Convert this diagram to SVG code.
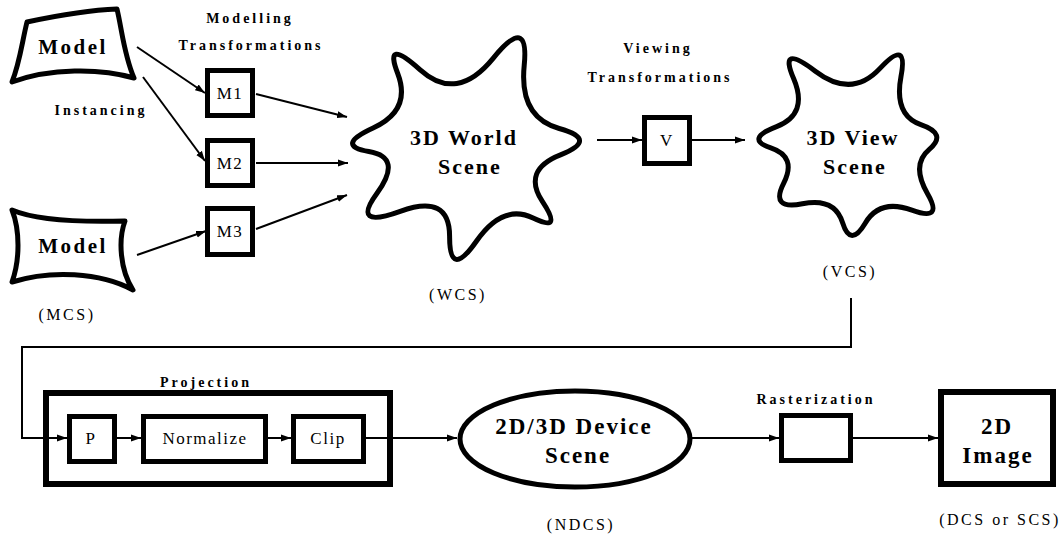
<svg xmlns="http://www.w3.org/2000/svg" width="1063" height="534" viewBox="0 0 1063 534">
<style>
.shape{fill:#fff;stroke:#000;stroke-width:5;stroke-linejoin:round}
.box{fill:#fff;stroke:#000;stroke-width:5}
text{font-family:'Liberation Serif','Times New Roman','DejaVu Serif',serif;text-anchor:middle;fill:#000}
.big{font-weight:bold;font-size:22px;letter-spacing:2px}
.lbl{font-weight:bold;font-size:14px;letter-spacing:3px}
.sm{font-size:16px;letter-spacing:2.5px}
.in{font-size:17px;letter-spacing:1.5px}
.con{fill:none;stroke:#000;stroke-width:2}
</style>
<defs>
<marker id="ah" markerWidth="10" markerHeight="8" refX="10" refY="4" orient="auto" markerUnits="userSpaceOnUse">
<path d="M0,0.5 L10,4 L0,7.5 Z" fill="#000"/>
</marker>
</defs>

<g id="connectors">
<line class="con" x1="137" y1="47" x2="205" y2="93" marker-end="url(#ah)"/>
<line class="con" x1="143" y1="77" x2="205" y2="161" marker-end="url(#ah)"/>
<line class="con" x1="256" y1="94" x2="347" y2="117" marker-end="url(#ah)"/>
<line class="con" x1="256" y1="163" x2="348" y2="163" marker-end="url(#ah)"/>
<line class="con" x1="137" y1="255" x2="206" y2="231" marker-end="url(#ah)"/>
<line class="con" x1="256" y1="229" x2="347" y2="195" marker-end="url(#ah)"/>
<line class="con" x1="597" y1="140" x2="642" y2="140" marker-end="url(#ah)"/>
<line class="con" x1="692" y1="140" x2="745" y2="140" marker-end="url(#ah)"/>
<polyline class="con" points="851,298 851,347 22,347 22,438 67,438" marker-end="url(#ah)"/>
<line class="con" x1="117" y1="438" x2="141" y2="438" marker-end="url(#ah)"/>
<line class="con" x1="268" y1="438" x2="291" y2="438" marker-end="url(#ah)"/>
<line class="con" x1="366" y1="438" x2="457" y2="438" marker-end="url(#ah)"/>
<line class="con" x1="692" y1="438" x2="779" y2="438" marker-end="url(#ah)"/>
<line class="con" x1="853" y1="438" x2="938" y2="438" marker-end="url(#ah)"/>
</g>

<g id="model1">
<path class="shape" d="M27,22 C55,16 90,10 117,9 C122,30 124,55 134,78 C100,68 50,68 12,82 C20,62 22,42 27,22 Z"/>
<text class="big" x="73" y="54" style="font-size:21px;letter-spacing:2.5px">Model</text>
</g>
<g id="model2">
<path class="shape" d="M12,210 C40,222 90,222 125,221 C118,240 120,270 133,290 C100,272 50,270 12,282 C20,260 20,230 12,210 Z"/>
<text class="big" x="73" y="253" style="font-size:21px;letter-spacing:2.5px">Model</text>
</g>
<g id="labels-left">
<text class="lbl" x="250" y="23">Modelling</text>
<text class="lbl" x="251" y="50">Transformations</text>
<text class="lbl" x="101" y="115">Instancing</text>
<text class="sm" x="67" y="320">(MCS)</text>
</g>
<g id="m1"><rect class="box" x="207.5" y="70.5" width="45" height="45"/><text class="in" x="230" y="99">M1</text></g>
<g id="m2"><rect class="box" x="207.5" y="140.5" width="45" height="45"/><text class="in" x="230" y="169">M2</text></g>
<g id="m3"><rect class="box" x="207.5" y="208.5" width="45" height="46"/><text class="in" x="230" y="237">M3</text></g>

<g id="world">
<path class="shape" d="M397.7,73.5 Q383.5,36.8 420.2,69.8 Q456.8,102.8 493.1,58.3 Q529.3,13.7 524.2,65.6 Q519,117.5 559.2,128.5 Q599.3,139.5 560.5,154.9 Q521.7,170.2 542.5,201.6 Q563.3,233 533.1,218.1 Q502.8,203.2 476.2,241.5 Q449.5,279.7 449.6,236.5 Q449.7,193.3 400.2,211.3 Q350.7,229.3 377,193.3 Q403.2,157.2 368.8,151.5 Q334.3,145.7 373.1,128 Q411.8,110.2 397.7,73.5 Z"/>
<text class="big" x="464" y="145">3D World</text>
<text class="big" x="470" y="174">Scene</text>
<text class="sm" x="458" y="300">(WCS)</text>
</g>

<g id="viewing">
<text class="lbl" x="658" y="53">Viewing</text>
<text class="lbl" x="660" y="82">Transformations</text>
<rect class="box" x="644.5" y="117.5" width="45" height="46"/>
<text class="in" x="667" y="146">V</text>
</g>

<g id="view">
<path class="shape" d="M793.6,78.6 Q778.3,43 815,71 Q851.7,99 880,68.4 Q908.3,37.7 901,76.5 Q893.7,115.3 920.8,124.6 Q947.8,133.8 929.3,149.3 Q910.8,164.7 927.4,193.4 Q944,222 911.9,210.2 Q879.8,198.3 865.2,223.2 Q850.5,248 842.6,222.7 Q834.7,197.3 802.4,203.8 Q770,210.2 783.6,183.4 Q797.2,156.5 770.8,147.8 Q744.3,139 776.6,126.6 Q808.8,114.2 793.6,78.6 Z"/>
<text class="big" x="853" y="145">3D View</text>
<text class="big" x="855" y="174">Scene</text>
<text class="sm" x="850" y="277">(VCS)</text>
</g>

<g id="projection">
<rect x="46" y="393" width="344" height="91" fill="none" stroke="#000" stroke-width="6"/>
<text class="lbl" x="206" y="387">Projection</text>
</g>
<g id="p"><rect class="box" x="69.5" y="416.5" width="45" height="45"/><text class="in" x="91" y="444">P</text></g>
<g id="normalize"><rect class="box" x="143.5" y="416.5" width="122" height="45"/><text class="in" x="205" y="444">Normalize</text></g>
<g id="clip"><rect class="box" x="293.5" y="416.5" width="70" height="45"/><text class="in" x="328" y="444">Clip</text></g>

<g id="device">
<ellipse class="shape" cx="575" cy="439" rx="115" ry="48"/>
<text class="big" x="574" y="434" style="font-size:23px">2D/3D Device</text>
<text class="big" x="578" y="463" style="font-size:23px">Scene</text>
<text class="sm" x="581" y="530">(NDCS)</text>
</g>

<g id="raster">
<text class="lbl" x="816" y="404">Rasterization</text>
<rect class="box" x="781.5" y="415.5" width="69" height="45"/>
</g>

<g id="image">
<rect x="941" y="392" width="112" height="92" fill="#fff" stroke="#000" stroke-width="6"/>
<text class="big" x="997" y="434" style="font-size:23px">2D</text>
<text class="big" x="998" y="463" style="font-size:23px">Image</text>
<text class="sm" x="1000" y="525">(DCS or SCS)</text>
</g>
</svg>
